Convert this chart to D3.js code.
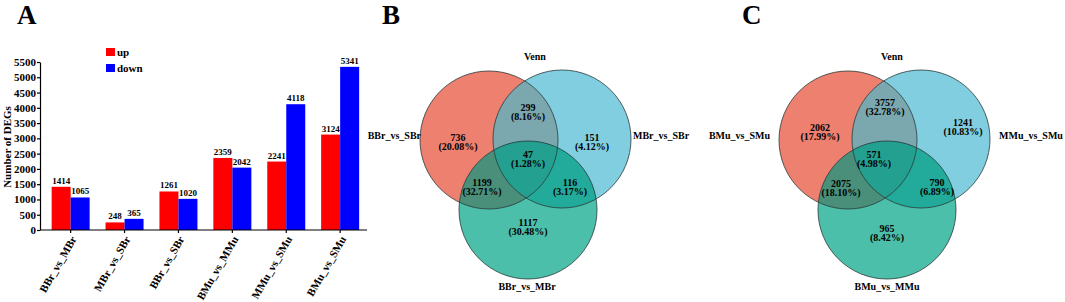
<!DOCTYPE html>
<html><head><meta charset="utf-8">
<script src="https://cdn.jsdelivr.net/npm/d3@7"></script>
<style>
html,body{margin:0;padding:0;background:#fff;}
svg{display:block;}
text{font-family:"Liberation Serif","Times New Roman",serif;font-weight:bold;fill:#000;}
</style></head>
<body>
<svg id="chart" width="1065" height="302"></svg>
<script>
// ---------- data ----------
const categories = ["BBr_vs_MBr","MBr_vs_SBr","BBr_vs_SBr","BMu_vs_MMu","MMu_vs_SMu","BMu_vs_SMu"];
const seriesNames = ["up","down"];
const upValues = [1414,248,1261,2359,2241,3124];
const downValues = [1065,365,1020,2042,4118,5341];
const yTicks = [0,500,1000,1500,2000,2500,3000,3500,4000,4500,5000,5500];

// Venn region order: [A only, B only, C only, A∩B, A∩C, B∩C, A∩B∩C]
const vennBSets = ["BBr_vs_SBr","MBr_vs_SBr","BBr_vs_MBr"];
const vennBCounts = [736,151,1117,299,1199,116,47];
const vennBPercents = ["20.08%","4.12%","30.48%","8.16%","32.71%","3.17%","1.28%"];
const vennCSets = ["BMu_vs_SMu","MMu_vs_SMu","BMu_vs_MMu"];
const vennCCounts = [2062,1241,965,3757,2075,790,571];
const vennCPercents = ["17.99%","10.83%","8.42%","32.78%","18.10%","6.89%","4.98%"];

// ---------- styles / layout ----------
const svg = d3.select("#chart");
const colors = {up:"#ff0000", down:"#0000ff"};

// panel letters
svg.append("text").attr("x",17).attr("y",24).style("font-size","27px").text("A");
svg.append("text").attr("x",382).attr("y",24).style("font-size","27px").text("B");
svg.append("text").attr("x",742).attr("y",24).style("font-size","27px").text("C");

// ---------- bar chart ----------
const y = d3.scaleLinear().domain([0,5500]).range([230,62]);
const x0 = d3.scaleBand().domain(categories).range([43.7,367.1]).paddingInner(0.295).paddingOuter(0.1475);
const x1 = d3.scaleBand().domain(seriesNames).range([0,x0.bandwidth()]);

const gBar = svg.append("g");
const rows = categories.map((c,i)=>({cat:c, up:upValues[i], down:downValues[i]}));

const groups = gBar.selectAll("g.grp").data(rows).join("g")
  .attr("transform",d=>`translate(${x0(d.cat)},0)`);
groups.selectAll("rect").data(d=>seriesNames.map(s=>({s, v:d[s]}))).join("rect")
  .attr("x",d=>x1(d.s)).attr("width",x1.bandwidth())
  .attr("y",d=>y(d.v)).attr("height",d=>y(0)-y(d.v))
  .attr("fill",d=>colors[d.s]);
groups.selectAll("text.val").data(d=>seriesNames.map(s=>({s, v:d[s]}))).join("text")
  .attr("class","val")
  .attr("x",d=>x1(d.s)+x1.bandwidth()/2).attr("y",d=>y(d.v)-3)
  .attr("text-anchor","middle").style("font-size","9px").text(d=>d.v);

// y axis
const yAxis = gBar.append("g").attr("transform","translate(40,0)")
  .call(d3.axisLeft(y).tickValues(yTicks).tickSize(3).tickSizeOuter(0).tickFormat(d3.format("d")));
yAxis.select(".domain").attr("stroke","#000").attr("stroke-width",1.2);
yAxis.selectAll(".tick line").attr("stroke","#000").attr("stroke-width",1.2);
yAxis.selectAll(".tick text").attr("x",-4).style("font-size","11px")
  .style("font-family",'"Liberation Serif",serif').style("font-weight","bold");

// x axis
const xAxis = gBar.append("g").attr("transform","translate(0,230)")
  .call(d3.axisBottom(x0).tickSize(3).tickSizeOuter(0));
xAxis.select(".domain").remove();
xAxis.selectAll(".tick line").attr("stroke","#000").attr("stroke-width",1.2);
xAxis.selectAll(".tick text")
  .attr("x",0).attr("y",0).attr("dy","0.35em")
  .attr("transform","translate(3,7) rotate(-60)")
  .attr("text-anchor","end").style("font-size","11px")
  .style("font-family",'"Liberation Serif",serif').style("font-weight","bold");
gBar.append("line").attr("x1",40).attr("x2",367).attr("y1",230).attr("y2",230)
  .attr("stroke","#000").attr("stroke-width",1.2);

// y title
gBar.append("text").attr("transform","translate(11,147) rotate(-90)")
  .attr("text-anchor","middle").style("font-size","11px").text("Number of DEGs");

// legend
const leg = gBar.append("g").selectAll("g").data(seriesNames).join("g")
  .attr("transform",(d,i)=>`translate(106,${48+i*16})`);
leg.append("rect").attr("width",9).attr("height",8).attr("fill",d=>colors[d]);
leg.append("text").attr("x",11).attr("y",8).style("font-size","11px").text(d=>d);

// ---------- Venn diagrams ----------
const vennFill = {a:"#ee8070", b:"#80cee0", c:"#4cbfaa", ab:"#7ba7af", ac:"#4a8f7a", bc:"#22aa9a", abc:"#24a090"};

function drawVenn(id, ox, sets, counts, pcts, lay){
  const g = svg.append("g");
  const r = 69;
  const cen = [[ox-39,140],[ox+34,139],[ox,210]];
  const defs = svg.append("defs");
  ["A","B"].forEach((k,i)=>{
    defs.append("clipPath").attr("id",`${id}clip${k}`)
      .append("circle").attr("cx",cen[i][0]).attr("cy",cen[i][1]).attr("r",r);
  });
  defs.append("clipPath").attr("id",`${id}clipAB`).attr("clip-path",`url(#${id}clipA)`)
    .append("circle").attr("cx",cen[1][0]).attr("cy",cen[1][1]).attr("r",r);
  const circ = (sel,i,fill)=>sel.append("circle").attr("cx",cen[i][0]).attr("cy",cen[i][1]).attr("r",r).attr("fill",fill);
  circ(g,0,vennFill.a);
  circ(g,1,vennFill.b);
  circ(g,2,vennFill.c);
  circ(g.append("g").attr("clip-path",`url(#${id}clipA)`),1,vennFill.ab);
  circ(g.append("g").attr("clip-path",`url(#${id}clipA)`),2,vennFill.ac);
  circ(g.append("g").attr("clip-path",`url(#${id}clipB)`),2,vennFill.bc);
  circ(g.append("g").attr("clip-path",`url(#${id}clipAB)`),2,vennFill.abc);
  g.selectAll("circle.st").data(cen).join("circle").attr("class","st")
    .attr("cx",d=>d[0]).attr("cy",d=>d[1]).attr("r",r)
    .attr("fill","none").attr("stroke","#2a3a38").attr("stroke-width",0.8);

  // region numbers
  counts.forEach((v,i)=>{
    const p = lay.regions[i];
    g.append("text").attr("x",ox+p[0]).attr("y",p[1]+3.5).attr("text-anchor","middle")
      .style("font-size","10px").text(v);
    g.append("text").attr("x",ox+p[0]).attr("y",p[1]+13).attr("text-anchor","middle")
      .style("font-size","10px").text("("+pcts[i]+")");
  });
  // set labels
  g.append("text").attr("x",ox+lay.left).attr("y",139).attr("text-anchor","end").style("font-size","10px").text(sets[0]);
  g.append("text").attr("x",ox+lay.right).attr("y",139).attr("text-anchor","start").style("font-size","10px").text(sets[1]);
  g.append("text").attr("x",ox+lay.bottom).attr("y",290).attr("text-anchor","middle").style("font-size","10px").text(sets[2]);
  g.append("text").attr("x",ox+lay.title).attr("y",60).attr("text-anchor","middle").style("font-size","10px").text("Venn");
}

drawVenn("vb", 528, vennBSets, vennBCounts, vennBPercents, {
  regions:[[-70,137],[64,137],[0,222],[0,107],[-46,182],[42,182],[0,154]],
  left:-107, right:105, bottom:-1, title:7
});
drawVenn("vc", 887, vennCSets, vennCCounts, vennCPercents, {
  regions:[[-67,127],[76,122],[0,228],[-2,102],[-46,183],[50,182],[-13,154]],
  left:-117, right:112, bottom:0, title:5
});
</script>
</body></html>
